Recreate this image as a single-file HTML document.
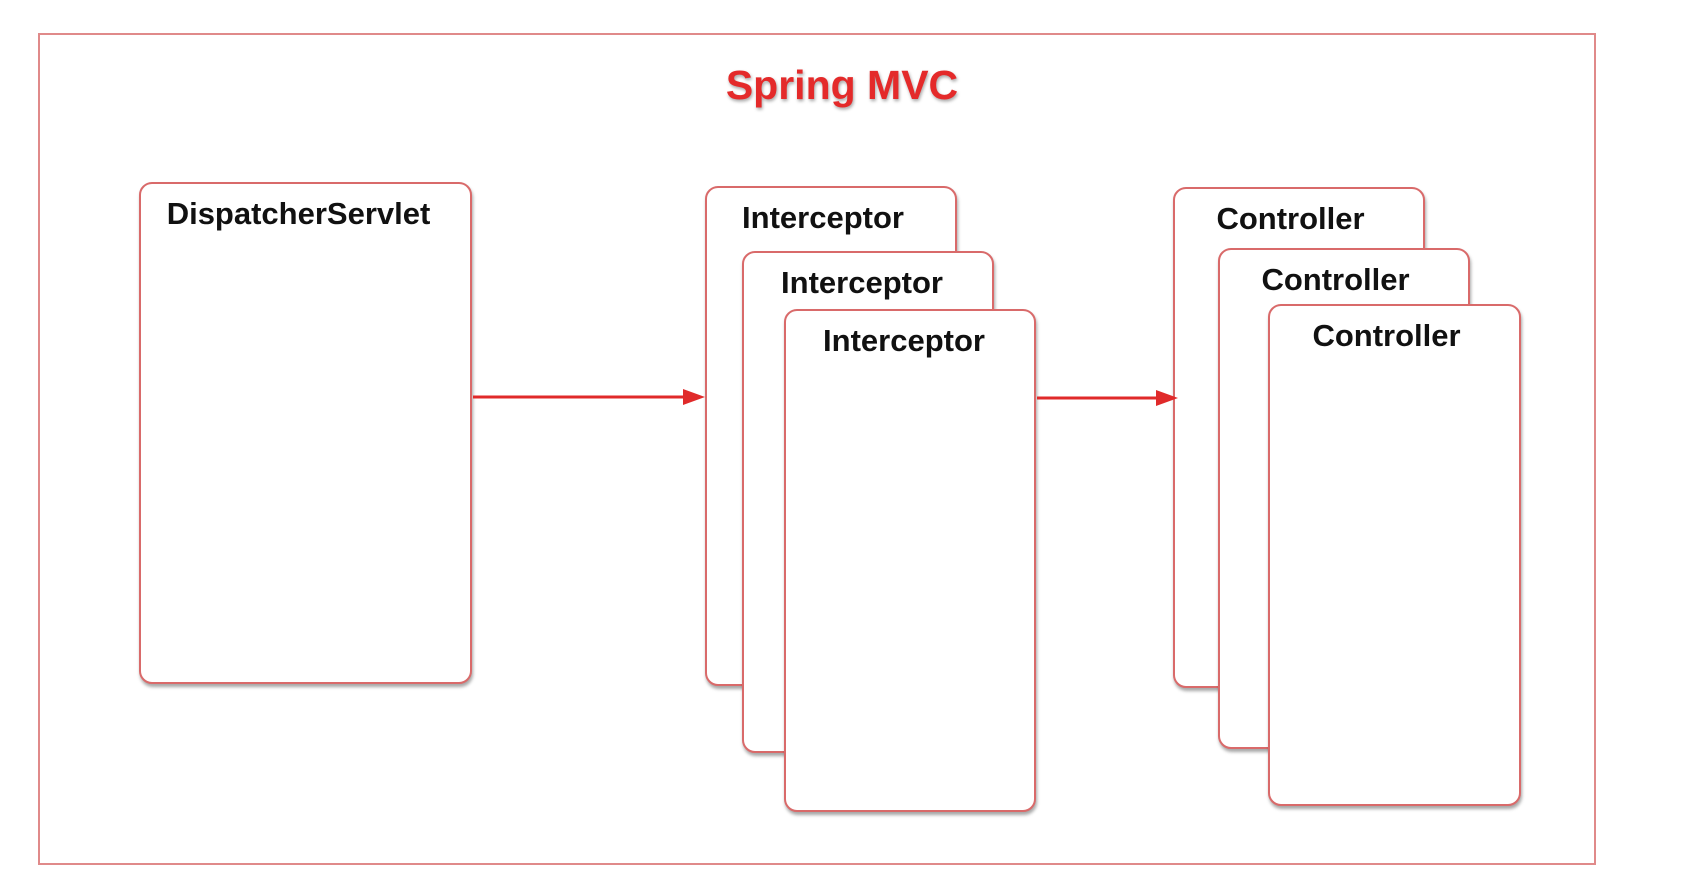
<!DOCTYPE html>
<html><head><style>
body{margin:0;width:1708px;height:896px;background:#fff;position:relative;overflow:hidden;font-family:"Liberation Sans",Arial,sans-serif}
.frame{position:absolute;left:38px;top:33px;width:1558px;height:832px;border:2px solid #e08a8a;box-sizing:border-box}
.box{position:absolute;background:#fff;border:2px solid #d96a6a;border-radius:13px;box-sizing:border-box;box-shadow:1px 3px 3px rgba(0,0,0,.35)}
.box span{position:absolute;top:12px;left:0;right:0;text-align:center;font-weight:bold;font-size:31px;color:#111}
.title{position:absolute;left:642px;width:400px;top:62px;text-align:center;font-weight:bold;font-size:41px;color:#e42a2a;text-shadow:1px 2px 3px rgba(0,0,0,.35)}
</style></head><body>
<div class="frame"></div>
<div class="title">Spring MVC</div>
<div class="box" style="left:139px;top:182px;width:333px;height:502px"><span style="left:-14px">DispatcherServlet</span></div>
<div class="box" style="left:705px;top:186px;width:252px;height:500px"><span style="left:-16px">Interceptor</span></div>
<div class="box" style="left:742px;top:251px;width:252px;height:502px"><span style="left:-12px">Interceptor</span></div>
<div class="box" style="left:784px;top:309px;width:252px;height:503px"><span style="left:-12px">Interceptor</span></div>
<div class="box" style="left:1173px;top:187px;width:252px;height:501px"><span style="left:-17px">Controller</span></div>
<div class="box" style="left:1218px;top:248px;width:252px;height:501px"><span style="left:-17px">Controller</span></div>
<div class="box" style="left:1268px;top:304px;width:253px;height:502px"><span style="left:-16px">Controller</span></div>
<svg width="1708" height="896" style="position:absolute;left:0;top:0">
<line x1="473" y1="397" x2="690" y2="397" stroke="#e02a2a" stroke-width="3"/>
<polygon points="705,397 683,389 683,405" fill="#e02a2a"/>
<line x1="1037" y1="398" x2="1163" y2="398" stroke="#e02a2a" stroke-width="3"/>
<polygon points="1178,398 1156,390 1156,406" fill="#e02a2a"/>
</svg>
</body></html>
